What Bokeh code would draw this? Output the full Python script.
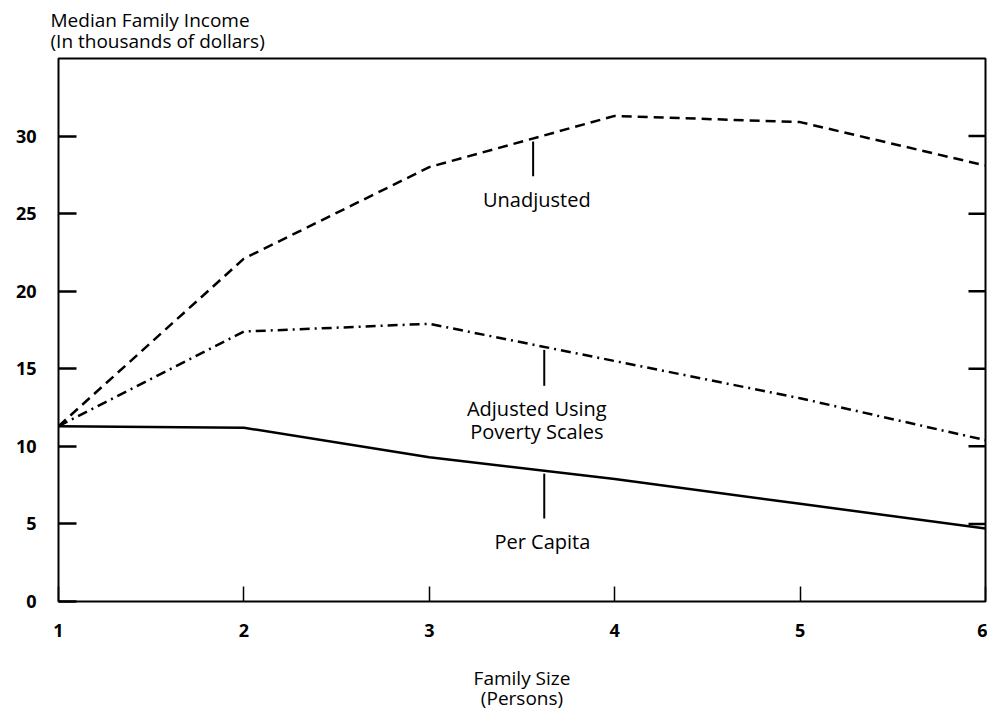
import numpy as np
from bokeh.plotting import figure
from bokeh.models import Range1d, LinearAxis, FixedTicker, Label, Title
from bokeh.embed import file_html
from bokeh.resources import INLINE

# ---- data ----
family_size = [1, 2, 3, 4, 5, 6]
unadjusted = [11.3, 22.1, 28.0, 31.3, 30.9, 28.1]
adjusted_poverty = [11.3, 17.4, 17.9, 15.5, 13.1, 10.4]
per_capita = [11.3, 11.2, 9.3, 7.9, 6.3, 4.7]
y_ticks = [0, 5, 10, 15, 20, 25, 30]
x_ticks = [1, 2, 3, 4, 5, 6]
y_title = "Median Family Income\n(In thousands of dollars)"
x_title = "Family Size\n(Persons)"

FONT = "Open Sans"
X0, X1, Y0, Y1 = 1, 6, 0, 35
W, H = 987, 714
BL, BT, BR = 58, 57, 2
FW = W - BL - BR
FH = 544
BB = H - BT - FH
PPX = FW / (X1 - X0)
PPY = FH / (Y1 - Y0)

p = figure(width=W, height=H, x_range=Range1d(X0, X1), y_range=Range1d(Y0, Y1),
           output_backend="svg", toolbar_location=None, title=None,
           x_axis_type=None, y_axis_type=None,
           min_border_left=BL, min_border_right=BR, min_border_top=BT,
           min_border_bottom=BB)
p.outline_line_color = "black"
p.outline_line_width = 2
p.background_fill_color = "white"
p.border_fill_color = "white"

p.add_layout(Title(text=y_title, align="left", offset=-8, text_font=FONT,
                   text_font_size="19px", text_font_style="normal", text_color="black",
                   text_line_height=0.8, standoff=9), "above")

left = LinearAxis(ticker=FixedTicker(ticks=y_ticks), major_tick_in=18, major_tick_out=0,
                  minor_tick_in=0, minor_tick_out=0, axis_line_color=None,
                  major_tick_line_width=2.5, major_label_text_font=FONT,
                  major_label_text_font_style="bold", major_label_text_font_size="18px",
                  major_label_standoff=22, major_label_text_color="black")
p.add_layout(left, "left")

bottom = LinearAxis(ticker=FixedTicker(ticks=x_ticks), major_tick_in=15, major_tick_out=0,
                    minor_tick_in=0, minor_tick_out=0, axis_line_color=None,
                    major_tick_line_width=1.5, major_label_text_font=FONT,
                    major_label_text_font_style="bold", major_label_text_font_size="18px",
                    major_label_standoff=22, major_label_text_color="black",
                    axis_label=x_title, axis_label_text_font=FONT,
                    axis_label_text_font_style="normal", axis_label_text_font_size="19px",
                    axis_label_text_line_height=0.8,
                    axis_label_standoff=25, axis_label_text_color="black")
p.add_layout(bottom, "below")

def dy(px):
    return px / PPY

def dx(px):
    return px / PPX

# inward ticks on the right edge of the frame
ry = y_ticks[1:]
p.segment(x0=[X1] * len(ry), y0=ry, x1=[X1 - dx(17)] * len(ry), y1=ry,
          line_color="black", line_width=2.5)

p.line(family_size, unadjusted, line_color="black", line_width=2.5, line_dash="10 6")
p.line(family_size, adjusted_poverty, line_color="black", line_width=2.5, line_dash="10 5 2 5")
p.line(family_size, per_capita, line_color="black", line_width=2.5)

# leader lines anchored on the curves
leaders = [
    (unadjusted, 3.56, 35, ["Unadjusted"], 3.58),
    (adjusted_poverty, 3.62, 36, ["Adjusted Using", "Poverty Scales"], 3.58),
    (per_capita, 3.62, 45, ["Per Capita"], 3.61),
]
for series, lx, length, lines, tx in leaders:
    top = float(np.interp(lx, family_size, series)) - dy(3)
    bot = top - dy(length)
    p.segment(x0=[lx], y0=[top], x1=[lx], y1=[bot], line_color="black", line_width=2)
    for i, t in enumerate(lines):
        p.add_layout(Label(x=tx, y=bot - dy(23 + 23 * i), text=t, text_align="center",
                           text_baseline="middle", text_font=FONT, text_font_size="20px",
                           text_color="black"))

open("out.html", "w").write(file_html(p, INLINE))
